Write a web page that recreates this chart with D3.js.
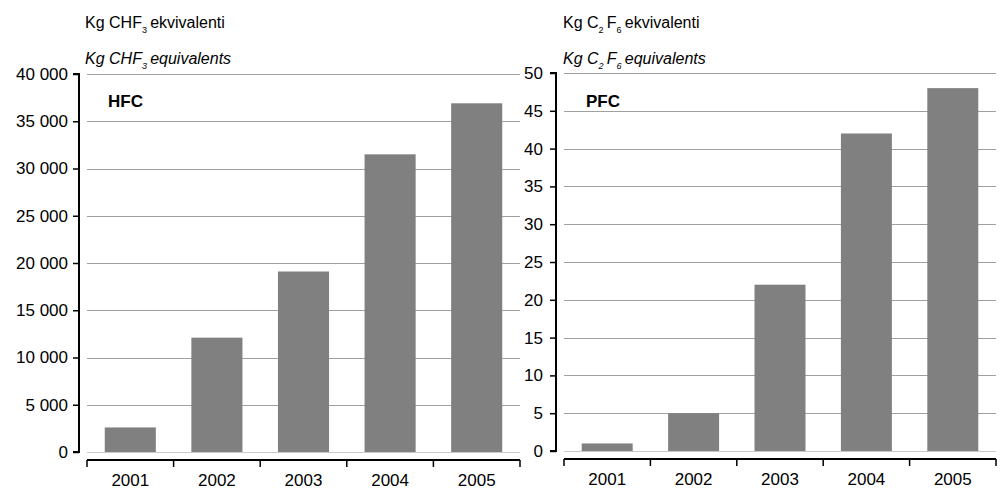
<!DOCTYPE html>
<html>
<head>
<meta charset="utf-8">
<script src="https://cdn.jsdelivr.net/npm/d3@7"></script>
<style>
  html, body { margin: 0; padding: 0; background: #fff; }
  svg { display: block; font-family: "Liberation Sans", Arial, sans-serif; }
</style>
</head>
<body>
<svg id="chart" width="1000" height="490"></svg>
<script>
// Years shared by both panels
const years = ["2001", "2002", "2003", "2004", "2005"];

// HFC emissions, kg CHF3 equivalents
const hfcValues = [2600, 12100, 19100, 31500, 36900];
const hfcTicks = [0, 5000, 10000, 15000, 20000, 25000, 30000, 35000, 40000];

// PFC emissions, kg C2F6 equivalents
const pfcValues = [1, 5, 22, 42, 48];
const pfcTicks = [0, 5, 10, 15, 20, 25, 30, 35, 40, 45, 50];

const svg = d3.select("#chart");
const spaced = d3.formatLocale({ decimal: ",", thousands: " ", grouping: [3], currency: ["", ""] }).format(",d");

function panel(cfg) {
  const g = svg.append("g");

  const x = d3.scaleBand().domain(years).range([cfg.plotLeft, cfg.plotRight]).paddingInner(0.41).paddingOuter(0.205);
  const y = d3.scaleLinear().domain([0, cfg.max]).range([cfg.bottom, cfg.top]);

  // horizontal gridlines
  g.append("g").selectAll("line").data(cfg.ticks).join("line")
    .attr("x1", cfg.plotLeft).attr("x2", cfg.plotRight)
    .attr("y1", d => Math.round(y(d)) + 0.5).attr("y2", d => Math.round(y(d)) + 0.5)
    .attr("stroke", d => d === 0 ? "#c8c8c8" : "#a0a0a0").attr("stroke-width", 1);

  // bars
  g.append("g").selectAll("rect").data(cfg.values).join("rect")
    .attr("x", (d, i) => x(years[i]))
    .attr("width", x.bandwidth())
    .attr("y", d => y(d))
    .attr("height", d => y(0) - y(d))
    .attr("fill", "#808080");

  // value axis
  const yAxis = d3.axisLeft(y).tickValues(cfg.ticks).tickSize(6).tickPadding(cfg.pad).tickFormat(cfg.fmt);
  const ya = g.append("g").attr("transform", `translate(${cfg.axisX},0)`).call(yAxis);
  ya.select(".domain").attr("d", `M-6,${y(cfg.max)}H0V${y(0)}H-6`).attr("stroke", "#000").attr("stroke-width", 2).attr("fill", "none");
  ya.selectAll(".tick line").attr("stroke", "#000").attr("stroke-width", 1.5);
  ya.selectAll(".tick text").attr("font-size", 17).attr("fill", "#000");

  // category axis, ticks on band boundaries
  const xa = g.append("g").attr("transform", `translate(0,${cfg.xAxisY})`);
  xa.append("line").attr("x1", cfg.plotLeft).attr("x2", cfg.plotRight)
    .attr("stroke", "#000").attr("stroke-width", 2);
  const bounds = years.map(d => x(d) - x.step() * x.paddingInner() / 2).concat([cfg.plotRight]);
  bounds[0] = cfg.plotLeft;
  xa.selectAll("line.tk").data(bounds).join("line").attr("class", "tk")
    .attr("x1", d => d).attr("x2", d => d).attr("y1", 0).attr("y2", 7)
    .attr("stroke", "#000").attr("stroke-width", 1.5);
  xa.selectAll("text").data(years).join("text")
    .attr("x", d => x(d) + x.bandwidth() / 2).attr("y", 26)
    .attr("text-anchor", "middle").attr("font-size", 17).attr("fill", "#000").text(d => d);

  // unit titles with subscripts
  cfg.titles.forEach((parts, li) => {
    const t = g.append("text").attr("x", cfg.titleX).attr("y", cfg.titleY[li])
      .attr("font-size", 16).attr("fill", "#000")
      .attr("font-style", li === 1 ? "italic" : "normal");
    parts.forEach(p => {
      if (p.sub) {
        t.append("tspan").attr("font-size", 9).attr("dy", 5).text(p.sub);
        t.append("tspan").attr("dy", -5).text("\u2009");
      } else {
        t.append("tspan").text(p.t);
      }
    });
  });

  // gas label
  g.append("text").attr("x", cfg.labelX).attr("y", cfg.labelY)
    .attr("font-size", 17).attr("font-weight", "bold").attr("fill", "#000").text(cfg.label);
}

panel({
  values: hfcValues, ticks: hfcTicks, max: 40000, fmt: spaced,
  plotLeft: 87, plotRight: 520, axisX: 79, top: 74, bottom: 452, xAxisY: 460, pad: 5,
  titleX: 85, titleY: [28, 64],
  titles: [
    [{ t: "Kg CHF" }, { sub: "3" }, { t: "ekvivalenti" }],
    [{ t: "Kg CHF" }, { sub: "3" }, { t: "equivalents" }]
  ],
  label: "HFC", labelX: 108, labelY: 107
});

panel({
  values: pfcValues, ticks: pfcTicks, max: 50, fmt: d3.format("d"),
  plotLeft: 564, plotRight: 996, axisX: 556, top: 73, bottom: 451, xAxisY: 459, pad: 7,
  titleX: 563, titleY: [28, 64],
  titles: [
    [{ t: "Kg C" }, { sub: "2" }, { t: "F" }, { sub: "6" }, { t: "ekvivalenti" }],
    [{ t: "Kg C" }, { sub: "2" }, { t: "F" }, { sub: "6" }, { t: "equivalents" }]
  ],
  label: "PFC", labelX: 586, labelY: 107
});
</script>
</body>
</html>
